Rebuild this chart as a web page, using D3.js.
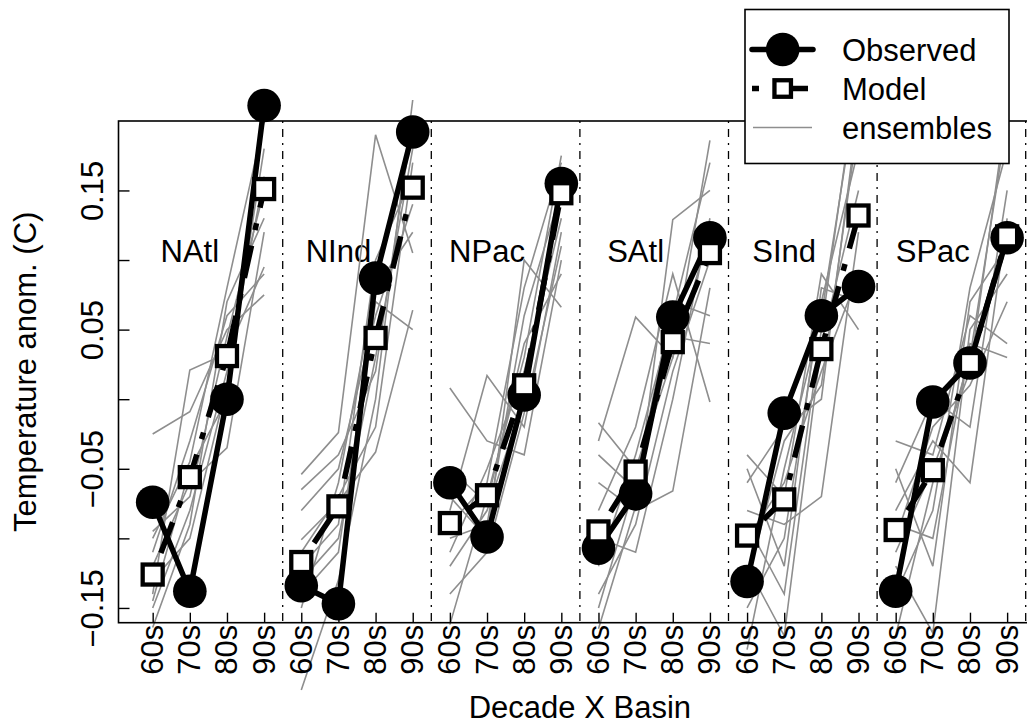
<!DOCTYPE html>
<html>
<head>
<meta charset="utf-8">
<script src="https://cdn.jsdelivr.net/npm/d3@7"></script>
<style>
  html, body { margin: 0; padding: 0; background: #fff; overflow: hidden; }
  svg { display: block; }
  text { font-family: "Liberation Sans", Arial, Helvetica, sans-serif; fill: #000; }
</style>
</head>
<body>
<svg id="chart" width="1027" height="724"></svg>
<script>
// ---- data -------------------------------------------------------------
const basins  = ["NAtl", "NInd", "NPac", "SAtl", "SInd", "SPac"];
const decades = ["60s", "70s", "80s", "90s"];

// observed decadal temperature anomaly (C), per basin, 60s..90s
const observed = [
  [-0.074, -0.138,  0.000,  0.211],   // NAtl
  [-0.134, -0.147,  0.087,  0.192],   // NInd
  [-0.060, -0.099,  0.003,  0.155],   // NPac
  [-0.107, -0.068,  0.059,  0.116],   // SAtl
  [-0.131, -0.010,  0.060,  0.081],   // SInd
  [-0.138, -0.002,  0.026,  0.116]    // SPac
];

// model ensemble mean
const model = [
  [-0.126, -0.056,  0.031,  0.151],
  [-0.117, -0.077,  0.044,  0.152],
  [-0.089, -0.069,  0.010,  0.148],
  [-0.095, -0.052,  0.041,  0.105],
  [-0.098, -0.072,  0.036,  0.132],
  [-0.094, -0.051,  0.026,  0.117]
];

// individual ensemble members, one array of runs per basin
const ensNAtl = [
  [-0.025, -0.009,  0.050,  0.075], [-0.140,  0.021,  0.033,  0.095],
  [-0.164, -0.090,  0.070,  0.130], [-0.120, -0.060, -0.035,  0.120],
  [-0.110, -0.030,  0.060,  0.090], [-0.150, -0.080,  0.020,  0.160],
  [-0.100, -0.045,  0.080,  0.200], [-0.130, -0.100,  0.010,  0.180],
  [-0.095, -0.070,  0.045,  0.150], [-0.145, -0.050,  0.000,  0.210]
];
const ensNInd = [
  [-0.054, -0.024,  0.190,  0.105], [-0.209, -0.130,  0.000,  0.215],
  [-0.101, -0.074, -0.038,  0.064], [-0.080, -0.050,  0.060,  0.140],
  [-0.130, -0.100,  0.030,  0.180], [-0.150, -0.060,  0.080,  0.120],
  [-0.120, -0.090,  0.100,  0.160], [-0.065, -0.040,  0.020,  0.200],
  [-0.140, -0.110,  0.070,  0.050], [-0.110, -0.070, -0.020,  0.170]
];
const ensNPac = [
  [ 0.008, -0.030, -0.040,  0.100], [-0.162, -0.070,  0.030,  0.175],
  [-0.080,  0.017, -0.020,  0.120], [-0.100, -0.090,  0.060,  0.150],
  [-0.120, -0.080,  0.000,  0.160], [-0.070, -0.100,  0.100,  0.066],
  [-0.110, -0.050,  0.020,  0.130], [-0.090, -0.060,  0.080,  0.170],
  [-0.140, -0.110, -0.010,  0.110], [-0.050, -0.075,  0.040,  0.090]
];
const ensSAtl = [
  [-0.017, -0.050,  0.030,  0.186], [-0.165, -0.077,  0.129,  0.150],
  [-0.030,  0.059,  0.030,  0.120], [-0.060, -0.080, -0.066,  0.080],
  [-0.120, -0.040,  0.060,  0.170], [-0.080, -0.020,  0.090, -0.002],
  [-0.140, -0.090,  0.020,  0.100], [-0.040, -0.065,  0.045,  0.040],
  [-0.100, -0.110,  0.000,  0.130], [-0.150, -0.060,  0.070,  0.060]
];
const ensSInd = [
  [-0.040, -0.070,  0.090,  0.050], [-0.180, -0.050,  0.060,  0.230],
  [-0.060, -0.020,  0.000,  0.210], [-0.120, -0.170,  0.040,  0.150],
  [-0.080, -0.090, -0.070,  0.120], [-0.150, -0.100,  0.070,  0.180],
  [-0.100, -0.060,  0.020,  0.090], [-0.050, -0.120,  0.080,  0.070],
  [-0.130, -0.030,  0.010,  0.200], [-0.090, -0.140,  0.050,  0.240]
];
const ensSPac = [
  [-0.030, -0.040,  0.060,  0.040], [-0.170, -0.060,  0.030,  0.200],
  [-0.060,  0.000, -0.020,  0.150], [-0.120, -0.168,  0.050,  0.090],
  [-0.080, -0.030, -0.060,  0.130], [-0.140, -0.080,  0.080,  0.180],
  [-0.100, -0.020,  0.010,  0.070], [-0.050, -0.120,  0.070,  0.110],
  [-0.110, -0.050,  0.020,  0.210], [-0.090, -0.100,  0.040,  0.030]
];
const ensembles = [ensNAtl, ensNInd, ensNPac, ensSAtl, ensSInd, ensSPac];

const yTicks      = [-0.15, -0.10, -0.05, 0.00, 0.05, 0.10, 0.15];
const yTickLabels = ["\u22120.15", "", "\u22120.05", "", "0.05", "", "0.15"];
const basinLabelY = 0.1;

const legendLabels = ["Observed", "Model", "ensembles"];
const xTitle = "Decade X Basin";
const yTitle = "Temperature anom. (C)";

// ---- layout -----------------------------------------------------------
const plot = { left: 118.5, right: 1041.3, top: 121, bottom: 622.7 };
const FONT = 31;
const GREY = "#8e8e8e";

const svg = d3.select("#chart");

const x = d3.scaleLinear().domain([0.08, 24.92]).range([plot.left, plot.right]);
const y = d3.scaleLinear().domain([-0.1606, 0.1999]).range([plot.bottom, plot.top]);

// position index along the x axis: 4 decades per basin
const xi = (b, d) => b * 4 + d + 1;

const line = d3.line();
const seriesPoints = (vals, b) => vals.map((v, d) => [x(xi(b, d)), y(v)]);

// ---- basin dividers ---------------------------------------------------
const dividers = d3.range(1, basins.length + 1).map(k => k * 4 + 0.5);
svg.append("g").selectAll("line").data(dividers).join("line")
  .attr("x1", d => x(d)).attr("x2", d => x(d))
  .attr("y1", plot.top).attr("y2", plot.bottom)
  .attr("stroke", "#000").attr("stroke-width", 1.3)
  .attr("stroke-dasharray", "2,6,8,6");

// ---- basin labels -----------------------------------------------------
svg.append("g").selectAll("text").data(basins).join("text")
  .attr("x", (d, b) => x(xi(b, 1)))
  .attr("y", y(basinLabelY) + 2)
  .attr("text-anchor", "middle")
  .attr("font-size", FONT)
  .text(d => d);

// ---- ensemble members -------------------------------------------------
const gEns = svg.append("g");
ensembles.forEach((runs, b) => {
  gEns.selectAll(null).data(runs).join("path")
    .attr("d", r => line(seriesPoints(r, b)))
    .attr("fill", "none")
    .attr("stroke", GREY)
    .attr("stroke-width", 1.6);
});

// ---- observed ---------------------------------------------------------
const gObs = svg.append("g");
observed.forEach((vals, b) => {
  gObs.append("path")
    .attr("d", line(seriesPoints(vals, b)))
    .attr("fill", "none").attr("stroke", "#000")
    .attr("stroke-width", 5.5).attr("stroke-linejoin", "round");
  gObs.selectAll(null).data(vals).join("circle")
    .attr("cx", (v, d) => x(xi(b, d)))
    .attr("cy", v => y(v))
    .attr("r", 16.8)
    .attr("fill", "#000");
});

// ---- model mean -------------------------------------------------------
const SQ = 20;
const gMod = svg.append("g");
model.forEach((vals, b) => {
  gMod.append("path")
    .attr("d", line(seriesPoints(vals, b)))
    .attr("fill", "none").attr("stroke", "#000")
    .attr("stroke-width", 5.5)
    .attr("stroke-dasharray", "7,16,33,16");
  gMod.selectAll(null).data(vals).join("rect")
    .attr("x", (v, d) => x(xi(b, d)) - SQ / 2)
    .attr("y", v => y(v) - SQ / 2)
    .attr("width", SQ).attr("height", SQ)
    .attr("fill", "#fff").attr("stroke", "#000").attr("stroke-width", 4.3);
});

// ---- axes -------------------------------------------------------------
const yAxis = svg.append("g")
  .attr("transform", `translate(${plot.left},0)`)
  .call(d3.axisLeft(y).tickValues(yTicks).tickSize(-11)
        .tickFormat((d, i) => yTickLabels[i]));
yAxis.select(".domain").remove();
yAxis.selectAll(".tick line").attr("stroke", "#000").attr("stroke-width", 1.4);
yAxis.selectAll(".tick text")
  .attr("x", null).attr("dy", null)
  .attr("transform", `translate(${102.5 - plot.left},0) rotate(-90)`)
  .attr("text-anchor", "middle")
  .attr("font-size", FONT).attr("font-family", null).attr("fill", "#000");

const xAxis = svg.append("g")
  .attr("transform", `translate(0,${plot.bottom})`)
  .call(d3.axisBottom(x).tickValues(d3.range(1, basins.length * 4 + 1)).tickSize(-10)
        .tickFormat(i => decades[(i - 1) % 4]));
xAxis.select(".domain").remove();
xAxis.selectAll(".tick line").attr("stroke", "#000").attr("stroke-width", 1.4);
xAxis.selectAll(".tick text")
  .attr("y", null).attr("dy", null)
  .attr("transform", "translate(10,2) rotate(-90)")
  .attr("text-anchor", "end")
  .attr("font-size", FONT).attr("font-family", null).attr("fill", "#000");

// plot frame
svg.append("rect")
  .attr("x", plot.left).attr("y", plot.top)
  .attr("width", plot.right - plot.left).attr("height", plot.bottom - plot.top)
  .attr("fill", "none").attr("stroke", "#000").attr("stroke-width", 1.6);

// axis titles
svg.append("text")
  .attr("x", (plot.left + plot.right) / 2).attr("y", 718)
  .attr("text-anchor", "middle").attr("font-size", FONT)
  .text(xTitle);
svg.append("text")
  .attr("transform", `translate(36,${(plot.top + plot.bottom) / 2}) rotate(-90)`)
  .attr("text-anchor", "middle").attr("font-size", FONT)
  .text(yTitle);

// ---- legend -----------------------------------------------------------
const leg = svg.append("g");
leg.append("rect")
  .attr("x", 745).attr("y", 9.5).attr("width", 264).attr("height", 154)
  .attr("fill", "#fff").attr("stroke", "#000").attr("stroke-width", 1.6);

const legBase = [60.5, 99.5, 138.5];
const lx1 = 752, lx2 = 813, lxc = 782.7;
const symY = i => legBase[i] - 11;

leg.selectAll("text").data(legendLabels).join("text")
  .attr("x", 842).attr("y", (d, i) => legBase[i])
  .attr("font-size", FONT).text(d => d);

// observed key
leg.append("line").attr("x1", lx1).attr("x2", lx2)
  .attr("y1", symY(0)).attr("y2", symY(0))
  .attr("stroke", "#000").attr("stroke-width", 5.5).attr("stroke-linecap", "round");
leg.append("circle").attr("cx", lxc).attr("cy", symY(0)).attr("r", 16.8).attr("fill", "#000");

// model key
leg.append("line").attr("x1", lx1).attr("x2", lx2)
  .attr("y1", symY(1)).attr("y2", symY(1))
  .attr("stroke", "#000").attr("stroke-width", 5.5)
  .attr("stroke-dasharray", "7,16,33,16");
const LSQ = 16.5;
leg.append("rect").attr("x", lxc - LSQ / 2).attr("y", symY(1) - LSQ / 2)
  .attr("width", LSQ).attr("height", LSQ)
  .attr("fill", "#fff").attr("stroke", "#000").attr("stroke-width", 4.3);

// ensemble key
leg.append("line").attr("x1", lx1 + 1).attr("x2", lx2 - 1)
  .attr("y1", symY(2)).attr("y2", symY(2))
  .attr("stroke", GREY).attr("stroke-width", 1.6);
</script>
</body>
</html>
